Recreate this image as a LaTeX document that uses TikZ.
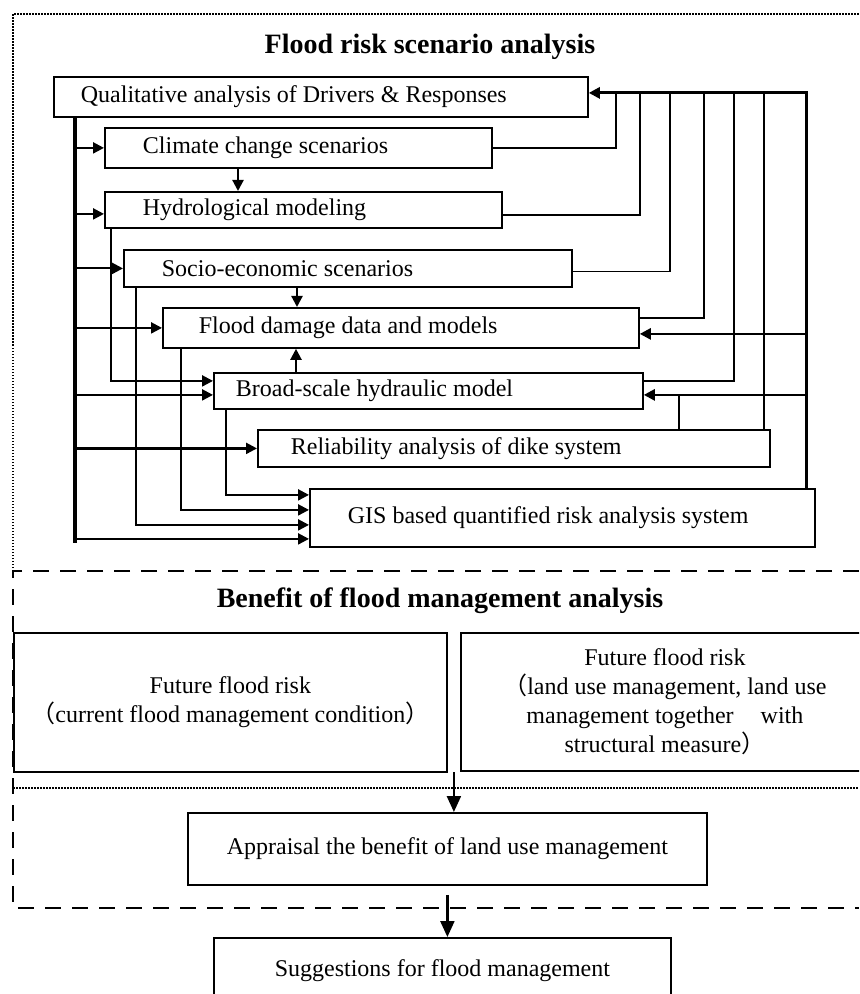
\documentclass[tikz,border=0pt]{standalone}
\usepackage{fontspec}
\setmainfont{Liberation Serif}
\newfontfamily\cjkf{Noto Sans CJK SC}
\usetikzlibrary{arrows.meta,calc}
\begin{document}
\begin{tikzpicture}[x=0.5pt,y=-0.5pt,
  box/.style={draw, line width=0.9pt, inner xsep=0pt, inner ysep=0pt, anchor=north west, align=flush left, font=\fontsize{12}{14.5}\selectfont},
  cbox/.style={draw, line width=0.9pt, inner sep=0pt, anchor=north west, align=center, font=\fontsize{12}{14.5}\selectfont},
  ttl/.style={font=\bfseries\fontsize{14}{17}\selectfont},
  arrtip/.style={-{Triangle[length=5.5pt,width=5.5pt]}},
  bigtip/.style={-{Triangle[length=8pt,width=7pt]}},
  thickl/.style={line width=1.6pt},
  medl/.style={line width=1.1pt},
  rarr/.style={line width=1.3pt},
  thinl/.style={line width=0.8pt},
  dotl/.style={line width=0.9pt, dash pattern=on 0.75pt off 0.75pt},
  dashl/.style={line width=1.2pt, dash pattern=on 8pt off 5.5pt},
]
\useasboundingbox (0,0) rectangle (859,994);
\clip (0,0) rectangle (859,994);

% frames
\draw[dotl] (13,571) -- (13,14) -- (859,14);
\draw[dashl] (859,571) -- (13,571) -- (13,908) -- (859,908);
\draw[dotl] (13,788) -- (859,788);

% titles
\node[ttl] (T1) at (430,47) {Flood risk scenario analysis};
\node[ttl] (T2) at (440,601) {Benefit of flood management analysis};

% upper boxes
\node[box, text width=267pt, minimum height=20pt] (Q) at (53,76) {\hspace*{13.5pt}Qualitative analysis of Drivers \& Responses};
\node[box, text width=193.5pt, minimum height=20pt] (C) at (104,127) {\hspace*{19pt}Climate change scenarios};
\node[box, text width=198.5pt, minimum height=18pt] (H) at (104,191) {\hspace*{19pt}Hydrological modeling};
\node[box, text width=224pt, minimum height=18.5pt] (S) at (123,249) {\hspace*{19pt}Socio-economic scenarios};
\node[box, text width=238pt, minimum height=20pt] (F) at (162,307) {\hspace*{18pt}Flood damage data and models};
\node[box, text width=214.5pt, minimum height=18pt] (B) at (213,372) {\hspace*{11pt}Broad-scale hydraulic model};
\node[box, text width=256pt, minimum height=18.5pt] (R) at (257,429) {\hspace*{16.5pt}Reliability analysis of dike system};
\node[box, text width=252.5pt, minimum height=29pt] (G) at (309,488) {\hspace*{19pt}GIS based quantified risk analysis system};

% lower boxes
\node[cbox, minimum width=216.5pt, minimum height=69.5pt] (L) at (13,632) {Future flood risk\\{\cjkf （}current flood management condition{\cjkf ）}};
\node[cbox, minimum width=204pt, minimum height=69pt] (Rt) at (460,632) {Future flood risk\\{\cjkf （}land use management, land use\\management together\hspace{13.5pt}with\\structural measure{\cjkf ）}};
\node[cbox, minimum width=259.5pt, minimum height=36pt] (A) at (187,812) {Appraisal the benefit of land use management};
\node[cbox, minimum width=228.5pt, minimum height=33pt] (Sg) at (213,937) {Suggestions for flood management};

% left main line
\path ([xshift=11pt]Q.south west) coordinate (mlT);
\path ([yshift=-2pt]H.west) coordinate (hIn)
      ([yshift=5pt]B.west) coordinate (bIn1)
      ([yshift=-2pt]B.west) coordinate (bIn2)
      ([yshift=11.5pt]G.west) coordinate (gIn1)
      ([yshift=4pt]G.west) coordinate (gIn2)
      ([yshift=-3.5pt]G.west) coordinate (gIn3)
      ([yshift=-10.5pt]G.west) coordinate (gIn4);
\path (mlT |- gIn4) ++(0,4) coordinate (mlB);
\draw[thickl] (mlT) -- (mlB);

\draw[medl,arrtip] (mlT |- C.west) -- (C.west);
\draw[medl,arrtip] (mlT |- hIn) -- (hIn);
\draw[medl,arrtip] (mlT |- S.west) -- (S.west);
\draw[medl,arrtip] (mlT |- F.west) -- (F.west);
\draw[medl,arrtip] (mlT |- bIn2) -- (bIn2);
\draw[medl,arrtip] (mlT |- R.west) -- (R.west);
\draw[medl,arrtip] (mlT |- gIn4) -- (gIn4);

% internal connectors
\draw[medl,arrtip] ([xshift=3.5pt]H.south west) |- (bIn1);
\draw[medl,arrtip] ([xshift=6.5pt]S.south west) |- (gIn3);
\draw[medl,arrtip] ([xshift=9.5pt]F.south west) |- (gIn2);
\draw[medl,arrtip] ([xshift=6.5pt]B.south west) |- (gIn1);

\draw[medl,arrtip] ([xshift=67pt]C.south west) -- ([xshift=67pt]H.north west);
\path ([xshift=87pt]S.south west) coordinate (sF);
\draw[medl,arrtip] (sF) -- (sF |- F.north);
\path ([xshift=41.5pt]B.north west) coordinate (bF);
\draw[medl,arrtip] (bF) -- (bF |- F.south);

% right feedback
\path ([xshift=-4.5pt]G.north east) coordinate (gTop)
      ([yshift=2pt]Q.east) coordinate (qIn);
\draw[thickl,arrtip] (gTop) |- (qIn);
\path ([xshift=13.5pt]qIn) coordinate (k1)
      ([xshift=25.5pt]qIn) coordinate (k2)
      ([xshift=40.5pt]qIn) coordinate (k3)
      ([xshift=57.5pt]qIn) coordinate (k4)
      ([xshift=72.5pt]qIn) coordinate (k5);
\path ([xshift=-3.5pt]R.north east) coordinate (rTop);
\draw[thinl] (C.east) -| (k1);
\draw[thinl] ([yshift=-2.5pt]H.east) -| (k2);
\draw[thinl] ([yshift=-1.5pt]S.east) -| (k3);
\draw[thinl] ([yshift=5pt]F.east) -| (k4);
\draw[thinl] ([yshift=5pt]B.east) -| (k5);
\draw[thinl] (rTop) -- (rTop |- qIn);

\path ([yshift=-3pt]F.east) coordinate (fRin)
      ([yshift=-2pt]B.east) coordinate (bRin);
\draw[rarr,arrtip] (gTop |- fRin) -- (fRin);
\draw[rarr,arrtip] (gTop |- bRin) -- (bRin);
\path ([xshift=211pt]R.north west) coordinate (rB);
\draw[thinl] (rB) -- (rB |- bRin);

% lower arrows
\path ($(L.south east)!0.5!(Rt.south west)$) coordinate (mid);
\draw[medl,bigtip] (mid) -- (mid |- A.north);
\draw[medl,bigtip] ([yshift=-4.5pt]A.south) -- (A.south |- Sg.north);
\end{tikzpicture}
\end{document}
